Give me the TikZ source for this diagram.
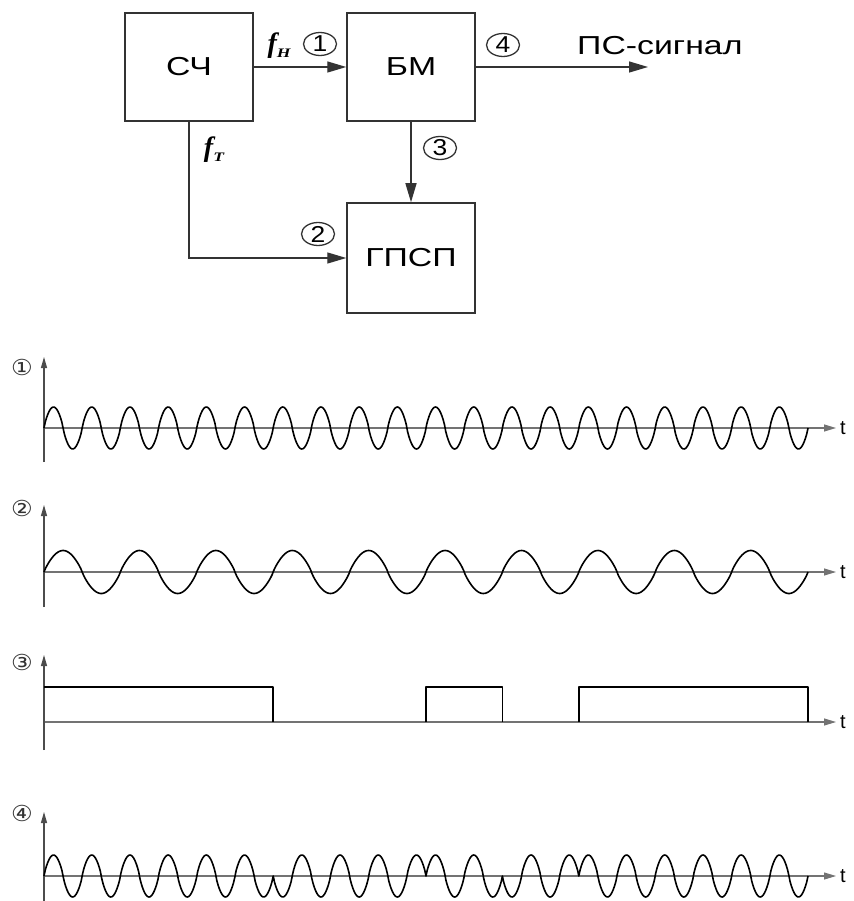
\documentclass[tikz,border=0pt]{standalone}
\usepackage{fontspec}
\setmainfont{Liberation Sans}
\newfontfamily\widesans[FakeStretch=1.3]{Liberation Sans}
\newfontfamily\digsans[FakeStretch=1.15]{Liberation Sans}
\newfontfamily\circsmall[FakeStretch=1.1]{DejaVu Sans}
\newfontfamily\fserif{Liberation Serif}
\newfontfamily\fserifwide[FakeStretch=1.35]{Liberation Serif}
\usetikzlibrary{arrows.meta,shapes.geometric}
\begin{document}
\begin{tikzpicture}[x=1pt,y=-1pt,
  block/.style={draw=black!80, line width=1.5pt, minimum width=128pt, minimum height=108pt, inner sep=0pt,
    font=\widesans\fontsize{26}{26}\selectfont},
  conn/.style={draw=black!80, line width=1.4pt, -{Triangle[length=19pt,width=11pt]}},
  flabel/.style={font=\fserif\bfseries\itshape\fontsize{28}{28}\selectfont, inner sep=0pt},
  cbig/.style={draw=black!80, line width=1.3pt, ellipse, minimum width=33pt, minimum height=23pt, inner sep=0pt,
    font=\digsans\fontsize{23}{23}\selectfont},
  csmall/.style={font=\circsmall\fontsize{22}{22}\selectfont, inner sep=0pt, text=black!80},
  yaxis/.style={draw=black!70, line width=1.1pt, -{Triangle[length=11pt,width=6pt]}},
  xaxis/.style={draw=black!55, line width=1.1pt, -{Triangle[length=12pt,width=7pt]}},
  tlabel/.style={font=\fontsize{20}{20}\selectfont, anchor=west, inner sep=0pt, xshift=4pt},
  wave/.style={draw=black, line width=1.6pt, line join=round}
]
\useasboundingbox (0,0) rectangle (853,901);

% ---------- block diagram ----------
\node[block] (sch) at (189,67) {СЧ};
\node[block] (bm) at (411,67) {БМ};
\node[block, minimum height=110pt] (gpsp) at (411,258) {ГПСП};
\coordinate (out) at (648,67);

\draw[conn] (sch.east) -- (bm.west);
\draw[conn] (bm.south) -- (gpsp.north);
\draw[conn] (sch.south) |- (gpsp.west);
\draw[conn] (bm.east) -- (out);

\node[flabel] (fh) at (279,46) {f\raisebox{-5pt}{\fserifwide\bfseries\itshape\fontsize{13}{13}\selectfont Н}};
\node[flabel] (ft) at (214,150) {f\raisebox{-5pt}{\fserifwide\bfseries\itshape\fontsize{13}{13}\selectfont Т}};
\node[cbig] (c1) at (320,44) {1};
\node[cbig] (c2) at (318,234) {2};
\node[cbig] (c3) at (440,148) {3};
\node[cbig] (c4) at (503,45) {4};
\node[font=\widesans\fontsize{26}{26}\selectfont, anchor=west, inner sep=0pt] (ps) at (577,46) {ПС-сигнал};

% ---------- plot 1 ----------
\coordinate (o1) at (44,462); \coordinate (y1) at (44,357);
\coordinate (s1) at (44,428); \coordinate (e1) at (836,428);
\draw[xaxis] (s1) -- (e1);
\draw[yaxis] (o1) -- (y1);
\node[tlabel] (t1) at (e1) {t};
\node[csmall] (n1) at (22,367) {①};
\draw[wave] plot[domain=44:808, samples=600] (\x, {428 - 21*sin((\x-44)*9.42408)*pow(abs(sin((\x-44)*9.42408))+0.0001,-0.2)});

% ---------- plot 2 ----------
\coordinate (o2) at (44,607); \coordinate (y2) at (44,505);
\coordinate (s2) at (44,572); \coordinate (e2) at (836,572);
\draw[xaxis] (s2) -- (e2);
\draw[yaxis] (o2) -- (y2);
\node[tlabel] (t2) at (e2) {t};
\node[csmall] (n2) at (22,508) {②};
\draw[wave] plot[domain=44:808, samples=500] (\x, {572 - 21.5*sin((\x-44)*4.71204)*pow(abs(sin((\x-44)*4.71204))+0.0001,-0.15)});

% ---------- plot 3 ----------
\coordinate (o3) at (44,750); \coordinate (y3) at (44,655);
\coordinate (s3) at (44,722); \coordinate (e3) at (836,722);
\draw[xaxis] (s3) -- (e3);
\draw[yaxis] (o3) -- (y3);
\node[tlabel] (t3) at (e3) {t};
\node[csmall] (n3) at (22,662) {③};
\draw[wave, line width=1.5pt] (44,687) -- (273.2,687) -- (273.2,722)
  (426,722) -- (426,687) -- (502.4,687) -- (502.4,722)
  (578.8,722) -- (578.8,687) -- (808,687) -- (808,722);

% ---------- plot 4 ----------
\coordinate (o4) at (44,901); \coordinate (y4) at (44,812);
\coordinate (s4) at (44,876); \coordinate (e4) at (836,876);
\draw[xaxis] (s4) -- (e4);
\draw[yaxis] (o4) -- (y4);
\node[tlabel] (t4) at (e4) {t};
\node[csmall] (n4) at (22,813) {④};
\draw[wave]
  plot[domain=44:273.2, samples=180] (\x, {876 - 21*sin((\x-44)*9.42408)*pow(abs(sin((\x-44)*9.42408))+0.0001,-0.2)})
  -- plot[domain=273.2:426, samples=120] (\x, {876 + 21*sin((\x-44)*9.42408)*pow(abs(sin((\x-44)*9.42408))+0.0001,-0.2)})
  -- plot[domain=426:502.4, samples=70] (\x, {876 - 21*sin((\x-44)*9.42408)*pow(abs(sin((\x-44)*9.42408))+0.0001,-0.2)})
  -- plot[domain=502.4:578.8, samples=70] (\x, {876 + 21*sin((\x-44)*9.42408)*pow(abs(sin((\x-44)*9.42408))+0.0001,-0.2)})
  -- plot[domain=578.8:808, samples=180] (\x, {876 - 21*sin((\x-44)*9.42408)*pow(abs(sin((\x-44)*9.42408))+0.0001,-0.2)});
\end{tikzpicture}
\end{document}
